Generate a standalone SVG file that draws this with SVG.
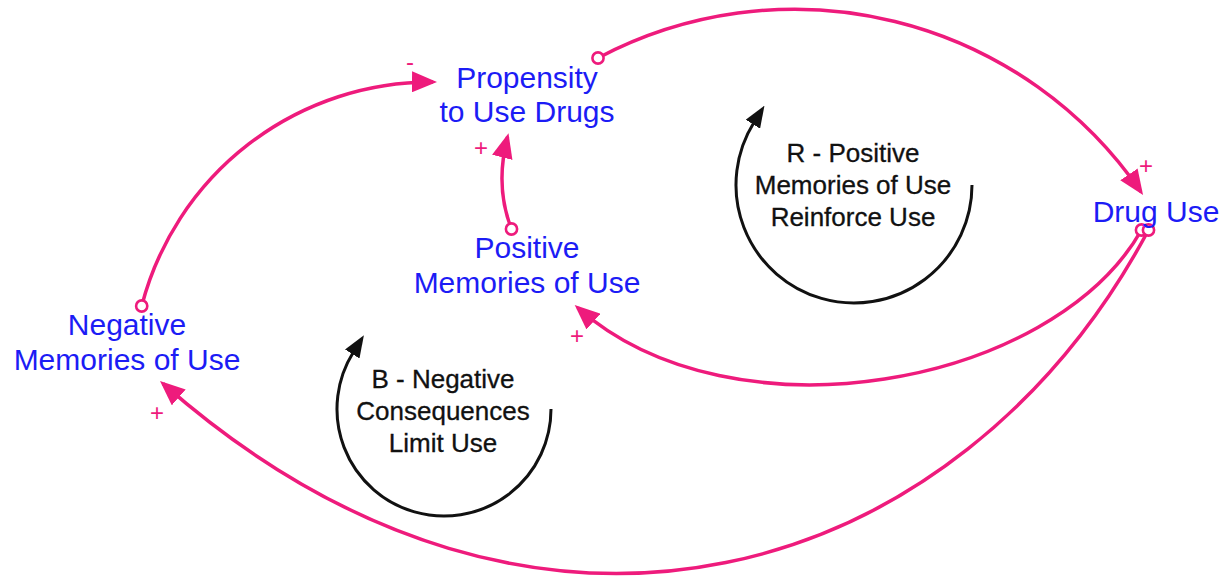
<svg xmlns="http://www.w3.org/2000/svg" width="1228" height="581" viewBox="0 0 1228 581">
  <style>
    .var { font-family: "Liberation Sans", Arial, sans-serif; font-size: 30px; fill: #1c1cf5; text-anchor: middle; }
    .loop-label { font-family: "Liberation Sans", Arial, sans-serif; font-size: 26px; fill: #111; stroke: #111; stroke-width: 0.3; text-anchor: middle; }
    .link { fill: none; stroke: #ee1b7c; stroke-width: 3.5; marker-start: url(#tail); marker-end: url(#head); }
    .loop { fill: none; stroke: #111; stroke-width: 3; marker-end: url(#loopHead); }
    .sign { font-family: "Liberation Sans", Arial, sans-serif; font-size: 24px; fill: #ee1b7c; text-anchor: middle; }
  </style>
  <defs>
    <marker id="head" markerUnits="userSpaceOnUse" viewBox="0 0 25 21" markerWidth="25" markerHeight="21" refX="21" refY="10.5" orient="auto">
      <path d="M0,0 L25,10.5 L0,21 z" fill="#ee1b7c"/>
    </marker>
    <marker id="tail" markerUnits="userSpaceOnUse" viewBox="0 0 16 16" markerWidth="16" markerHeight="16" refX="8" refY="8">
      <circle cx="8" cy="8" r="5.6" fill="#fff" stroke="#ee1b7c" stroke-width="2.6"/>
    </marker>
    <marker id="loopHead" markerUnits="userSpaceOnUse" viewBox="0 0 22 17" markerWidth="22" markerHeight="17" refX="2" refY="8.5" orient="auto">
      <path d="M0,0 L22,8.5 L0,17 z" fill="#111"/>
    </marker>
  </defs>
  <rect width="1228" height="581" fill="#fff"/>

  <!-- causal links -->
  <g id="connectors">
    <path class="link" d="M598,58 A420,420 0 0 1 1140.8,191.7"/>
    <path class="link" d="M141.7,306 A299,299 0 0 1 433,82"/>
    <path class="link" d="M511.5,229 C500,200 499,170 507.5,137"/>
    <path class="link" d="M1141.5,230 C1052.6,386.4 733.1,445 577.7,307.7"/>
    <path class="link" d="M1148.5,230 C960.5,582 538,713.6 163,383.6"/>
  </g>

  <!-- link polarities -->
  <g id="polarities">
    <text class="sign" x="1146" y="174">+</text>
    <text class="sign" x="410" y="70">-</text>
    <text class="sign" x="481" y="156">+</text>
    <text class="sign" x="577" y="344">+</text>
    <text class="sign" x="157" y="421">+</text>
  </g>

  <g id="propensity">
    <text class="var" x="527" y="88">Propensity</text>
    <text class="var" x="527" y="122">to Use Drugs</text>
  </g>
  <g id="drug-use">
    <text class="var" x="1156" y="222">Drug Use</text>
  </g>
  <g id="positive-memories">
    <text class="var" x="527" y="258">Positive</text>
    <text class="var" x="527" y="293">Memories of Use</text>
  </g>
  <g id="negative-memories">
    <text class="var" x="127" y="335">Negative</text>
    <text class="var" x="127" y="370">Memories of Use</text>
  </g>

  <!-- loop identifiers -->
  <g id="loop-r">
    <path class="loop" d="M972,185 A118,118 0 1 1 753.9,122.5"/>
    <text class="loop-label" x="853" y="162">R - Positive</text>
    <text class="loop-label" x="853" y="194">Memories of Use</text>
    <text class="loop-label" x="853" y="226">Reinforce Use</text>
  </g>
  <g id="loop-b">
    <path class="loop" d="M551,409 A107,107 0 1 1 353.3,352.3"/>
    <text class="loop-label" x="443" y="388">B - Negative</text>
    <text class="loop-label" x="443" y="420">Consequences</text>
    <text class="loop-label" x="443" y="452">Limit Use</text>
  </g>
</svg>
